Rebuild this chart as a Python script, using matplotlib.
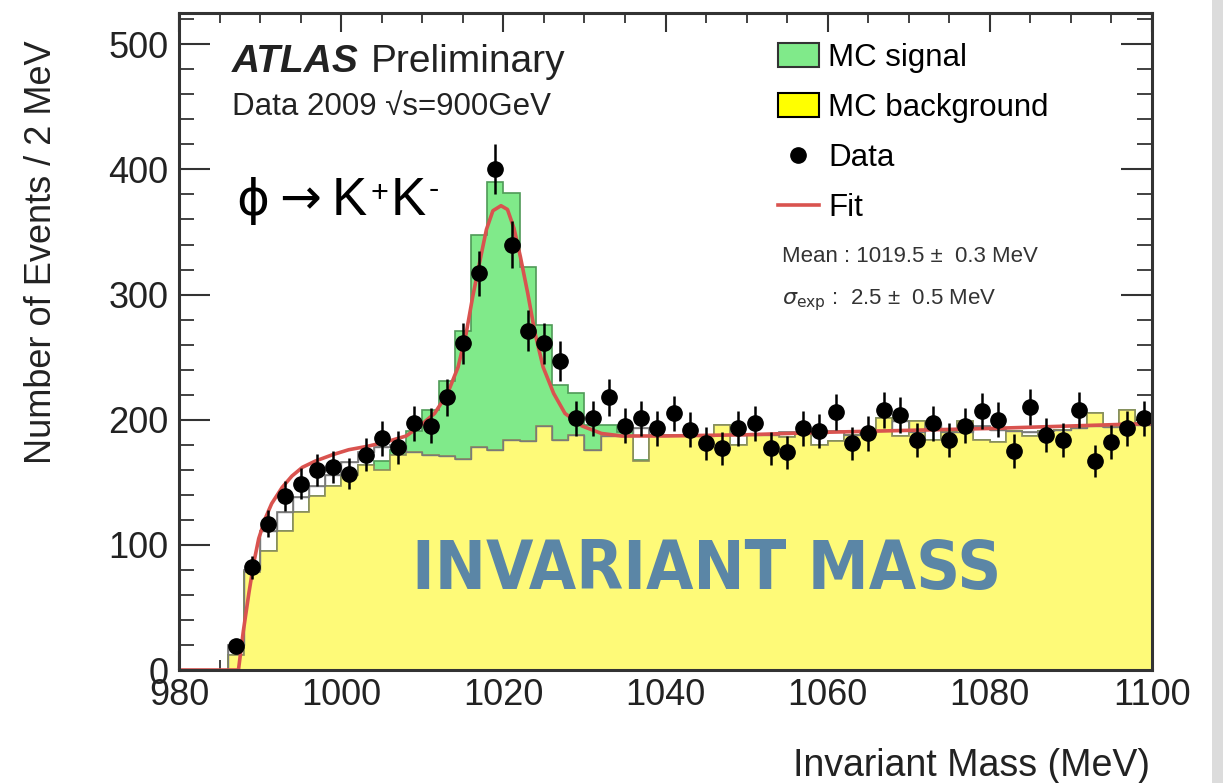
import numpy as np
import matplotlib
matplotlib.use('Agg')
import matplotlib.pyplot as plt
from matplotlib.patches import Patch, Rectangle
from matplotlib.lines import Line2D
from matplotlib.ticker import MultipleLocator
from matplotlib import font_manager as fm

plt.rcParams['font.family'] = ['Liberation Sans', 'DejaVu Sans']

# ---------------- data ----------------
bin_edges = np.arange(980, 1101, 2)          # 2 MeV bins, 980..1100
bin_centers = bin_edges[:-1] + 1

data_counts = np.array([
    0, 0, 0, 19, 82, 117, 139, 149, 160, 162,
    157, 172, 185, 178, 197, 195, 218, 261, 317, 400,
    340, 271, 261, 247, 201, 201, 218, 195, 201, 193,
    205, 192, 181, 177, 193, 197, 177, 174, 193, 191,
    206, 181, 189, 208, 204, 184, 197, 184, 195, 207,
    200, 175, 210, 188, 184, 208, 167, 182, 193, 201])

mc_background = np.array([
    0, 0, 0, 12, 78, 95, 111, 126, 139, 147,
    156, 164, 160, 172, 174, 172, 171, 169, 178, 176,
    184, 183, 195, 184, 188, 176, 187, 187, 167, 188,
    188, 188, 187, 196, 180, 188, 188, 186, 189, 180,
    183, 188, 189, 201, 187, 199, 184, 190, 199, 184,
    182, 191, 187, 191, 192, 193, 205, 194, 208, 197])

mc_signal = np.array([
    0, 0, 0, 0, 0, 0, 0, 0, 0, 0,
    0, 0, 7, 4, 17, 36, 60, 102, 170, 214,
    197, 139, 81, 44, 33, 20, 9, 3, 1, 0,
    0, 0, 0, 0, 0, 0, 0, 0, 0, 0,
    0, 0, 0, 0, 0, 0, 0, 0, 0, 0,
    0, 0, 0, 0, 0, 0, 0, 0, 0, 0])

mc_other = np.array([
    0, 0, 0, 20, 80, 111, 126, 138, 147, 156,
    166, 174, 178, 180, 174, 172, 171, 169, 178, 176,
    184, 183, 195, 184, 188, 176, 187, 187, 193, 188,
    188, 188, 187, 188, 188, 188, 188, 190, 189, 189,
    191, 188, 189, 192, 199, 190, 197, 190, 190, 195,
    192, 191, 190, 191, 192, 193, 195, 194, 197, 196])

fit_mass = [980, 987.3, 987.9, 988.6, 989.2, 989.8, 990.6, 991.4, 992.7, 993.9,
            995.2, 996.8, 998.9, 1000.9, 1003.4, 1005.9, 1008.0, 1009.5, 1011.5,
            1013.1, 1014.4, 1015.4, 1016.2, 1017.1, 1017.9, 1018.7, 1019.7, 1020.5,
            1021.3, 1022.1, 1023.0, 1023.9, 1024.9, 1026.2, 1027.6, 1029.7, 1032.1,
            1034.6, 1040, 1050, 1060, 1070, 1080, 1090, 1100]
fit_counts = [0, 0, 31, 62, 86, 105, 121, 133, 146, 155,
              162, 167, 172, 176, 179, 183, 187, 194, 205,
              221, 242, 269, 298, 327, 352, 367, 371, 368,
              353, 330, 301, 269, 242, 221, 205, 195, 189,
              187, 187, 188, 190, 191.5, 193, 195, 197]

legend_labels = ['MC signal', 'MC background', 'Data', 'Fit']
x_ticks = [980, 1000, 1020, 1040, 1060, 1080, 1100]
y_ticks = [0, 100, 200, 300, 400, 500]

# ---------------- figure ----------------
W, H = 1223, 783
fig = plt.figure(figsize=(W / 100, H / 100), dpi=100)
fig.add_artist(Rectangle((1212 / W, 0), 11 / W, 1, transform=fig.transFigure,
                         facecolor='#dcdcdc', edgecolor='none', zorder=-5))

ax = fig.add_axes([179.3 / W, 113 / H, (1151.7 - 179.3) / W, (670 - 13) / H])

green = '#80ea8a'
yellow = '#fefa78'
red = '#d9534f'

ax.stairs(mc_other, bin_edges, fill=True, facecolor='white', edgecolor='#7a7a7a',
          lw=1.2, zorder=1)
ax.stairs(mc_background + mc_signal, bin_edges, fill=True, facecolor=green,
          edgecolor='#4f9a57', lw=1.2, zorder=2)
ax.stairs(mc_background, bin_edges, fill=True, facecolor=yellow,
          edgecolor='#8c8c5a', lw=1.2, zorder=3)
ax.stairs(mc_other, bin_edges, fill=False, edgecolor='#7a7a7a', lw=1.0, zorder=3.5)

ax.plot(fit_mass, fit_counts, color=red, lw=2.6, zorder=5, solid_joinstyle='round')

mask = data_counts > 0
ax.errorbar(bin_centers[mask], data_counts[mask], yerr=np.sqrt(data_counts[mask]),
            fmt='o', color='black', ms=11, elinewidth=1.8, capsize=0, zorder=6)

ax.set_xlim(980, 1100)
ax.set_ylim(0, 525)
ax.set_xticks(x_ticks)
ax.set_yticks(y_ticks)
ax.xaxis.set_minor_locator(MultipleLocator(5))
ax.yaxis.set_minor_locator(MultipleLocator(20))
ax.tick_params(which='both', direction='in', top=True, right=True, colors='#333333',
               labelcolor='#222222', labelsize=26)
ax.tick_params(axis='y', which='major', length=22, width=1.5, pad=8)
ax.tick_params(axis='y', which='minor', length=11, width=1.3)
ax.tick_params(axis='x', which='major', length=14, width=1.5, pad=6)
ax.tick_params(axis='x', which='minor', length=7, width=1.3)
for s in ax.spines.values():
    s.set_linewidth(2.2)
    s.set_color('#333333')
    s.set_zorder(10)

# axis titles (ROOT style, aligned to the axis end)
fig.text(42 / W, 1 - 40 / H, 'Number of Events / 2 MeV', rotation=90, ha='center',
         va='top', fontsize=26, color='#222222')
fig.text(1150 / W, 1 - 766 / H, 'Invariant Mass (MeV)', ha='right', va='center',
         fontsize=27, color='#222222')

# legend
handles = [Patch(facecolor=green, edgecolor='#333333', lw=1.5),
           Patch(facecolor='#ffff00', edgecolor='black', lw=1.5),
           Line2D([], [], marker='o', ls='none', color='black', ms=11),
           Line2D([], [], color=red, lw=2.6)]
ax.legend(handles, legend_labels, loc='upper left', bbox_to_anchor=(778 / W, 1 - 43 / H),
          bbox_transform=fig.transFigure, frameon=False, fontsize=22.5,
          handlelength=1.3, handleheight=0.82, handletextpad=0.3, labelspacing=0.64,
          borderpad=0, borderaxespad=0)

fig.text(782 / W, 1 - 256 / H, 'Mean : 1019.5 \u00b1  0.3 MeV', fontsize=16,
         va='center', color='#333333')
fig.text(782 / W, 1 - 300 / H, '$\\sigma_{\\rm exp}$ :  2.5 \u00b1  0.5 MeV',
         fontsize=16, va='center', color='#333333')

fig.canvas.draw()
renderer = fig.canvas.get_renderer()

# ATLAS labels
t_atlas = fig.text(232 / W, 1 - 72 / H, 'ATLAS', fontsize=28, fontweight='bold',
                   fontstyle='italic', va='baseline', color='#222222')
bb = t_atlas.get_window_extent(renderer=renderer)
fig.text((bb.x1 + 12) / W, 1 - 72 / H, 'Preliminary', fontsize=28, va='baseline',
         color='#222222')
fig.text(232 / W, 1 - 115 / H, 'Data 2009 \u221as=900GeV', fontsize=22.5, va='baseline',
         color='#222222')

# phi -> K+K- label built piecewise
base = 1 - 215 / H
dv_family = ['DejaVu Sans', 'Liberation Sans']
fig.text(236 / W, base, '\u03d5', fontsize=36, va='baseline', color='black',
         family=dv_family)
fig.text(279 / W, base + 1 / H, '\u2192', fontsize=36, va='baseline', color='black',
         family=dv_family)
fig.text(332 / W, base, 'K', fontsize=38, va='baseline', color='black')
fig.text(371 / W, base + 13 / H, '+', fontsize=22, va='baseline', color='black')
fig.text(391 / W, base, 'K', fontsize=38, va='baseline', color='black')
fig.text(429 / W, base + 17 / H, '-', fontsize=22, va='baseline', color='black')

# big overlay title: choose a narrow bold face if one is installed
names = {f.name for f in fm.fontManager.ttflist}
cond = [f for f in fm.fontManager.ttflist
        if ('Condensed' in f.fname or 'Narrow' in f.fname) and f.weight in ('bold', 700)]
title_kw = dict(fontweight='bold', color='#5b86a6', ha='center', va='center', zorder=20)
if 'Liberation Sans Narrow' in names:
    title_kw['family'] = ['Liberation Sans Narrow']
elif cond:
    title_kw['fontproperties'] = fm.FontProperties(fname=cond[0].fname)
    title_kw.pop('fontweight')
else:
    title_kw['family'] = ['Liberation Sans']
fs = 62
t_big = fig.text(707 / W, 1 - 570 / H, 'INVARIANT MASS', fontsize=fs, **title_kw)
if 'fontproperties' in title_kw:
    t_big.set_fontsize(fs)
wbig = t_big.get_window_extent(renderer=renderer).width
if wbig > 600:
    t_big.set_fontsize(fs * 590 / wbig)

fig.savefig('out.png', dpi=100)
